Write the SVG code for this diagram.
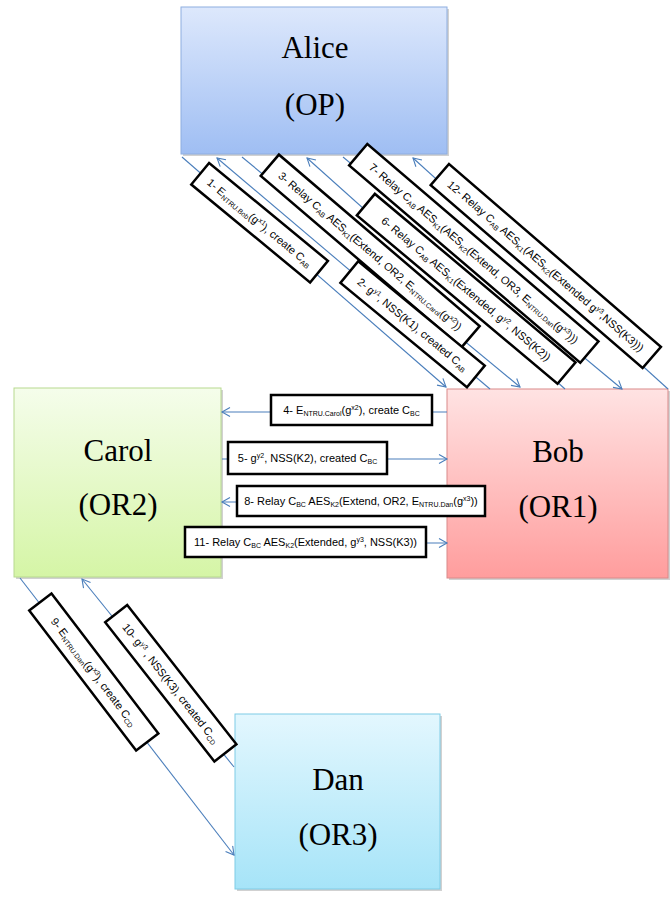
<svg xmlns="http://www.w3.org/2000/svg" width="672" height="903" viewBox="0 0 672 903">
<defs>
<linearGradient id="gA" x1="0" y1="0" x2="0" y2="1"><stop offset="0" stop-color="#dde8fc"/><stop offset="1" stop-color="#9fbef3"/></linearGradient>
<linearGradient id="gB" x1="0" y1="0" x2="0" y2="1"><stop offset="0" stop-color="#ffe3e3"/><stop offset="1" stop-color="#ff9d9d"/></linearGradient>
<linearGradient id="gC" x1="0" y1="0" x2="0" y2="1"><stop offset="0" stop-color="#f5fdeb"/><stop offset="1" stop-color="#d5f5a6"/></linearGradient>
<linearGradient id="gD" x1="0" y1="0" x2="0" y2="1"><stop offset="0" stop-color="#e3f7fe"/><stop offset="1" stop-color="#a6e4f8"/></linearGradient>
<marker id="arr" markerWidth="12" markerHeight="12" refX="9" refY="5" orient="auto" markerUnits="userSpaceOnUse"><path d="M1,0.5 L9,5 L1,9.5" fill="none" stroke="#4a7ebb" stroke-width="1.1"/></marker>
</defs>
<style>
.node{stroke-width:1}
.shadow{fill:#000;opacity:0.18}
.big{font-family:"Liberation Serif","Times New Roman",serif;font-size:31px;fill:#000;text-anchor:middle}
.edge{stroke:#4a7ebb;stroke-width:1.1;fill:none;marker-end:url(#arr)}
.lab{fill:#fff;stroke:#000;stroke-width:2.5}
.t{font-family:"Liberation Sans",Arial,sans-serif;font-size:11px;fill:#000;text-anchor:middle}
.s{font-size:7px}
</style>
<rect width="672" height="903" fill="#fff"/>

<g id="alice">
<rect class="shadow" x="183" y="9" width="266" height="147"/>
<rect class="node" x="181" y="7" width="266" height="147" fill="url(#gA)" stroke="#8eaee0"/>
<text class="big" x="315" y="58">Alice</text>
<text class="big" x="315" y="115">(OP)</text>
</g>

<g id="bob">
<rect class="shadow" x="449" y="391" width="221" height="189"/>
<rect class="node" x="447" y="389" width="221" height="189" fill="url(#gB)" stroke="#d98a8a"/>
<text class="big" x="558" y="462">Bob</text>
<text class="big" x="558" y="517">(OR1)</text>
</g>

<g id="carol">
<rect class="shadow" x="16" y="390" width="207" height="189"/>
<rect class="node" x="14" y="388" width="207" height="189" fill="url(#gC)" stroke="#b7d98f"/>
<text class="big" x="118" y="461">Carol</text>
<text class="big" x="118" y="515">(OR2)</text>
</g>

<g id="dan">
<rect class="shadow" x="237" y="716" width="205" height="175"/>
<rect class="node" x="235" y="714" width="205" height="175" fill="url(#gD)" stroke="#7fcce6"/>
<text class="big" x="338" y="790">Dan</text>
<text class="big" x="338" y="845">(OR3)</text>
</g>

<g id="connectors">
<line class="edge" x1="182" y1="157" x2="446" y2="387"/>
<line class="edge" x1="490" y1="389" x2="217" y2="158"/>
<line class="edge" x1="242" y1="157" x2="520" y2="387"/>
<line class="edge" x1="565" y1="389" x2="307" y2="158"/>
<line class="edge" x1="343" y1="157" x2="622" y2="389"/>
<line class="edge" x1="668" y1="389" x2="413" y2="158"/>
<line class="edge" x1="447" y1="412" x2="222" y2="412"/>
<line class="edge" x1="222" y1="459" x2="447" y2="459"/>
<line class="edge" x1="447" y1="502" x2="222" y2="502"/>
<line class="edge" x1="222" y1="543" x2="447" y2="543"/>
<line class="edge" x1="20" y1="578" x2="234" y2="855"/>
<line class="edge" x1="234" y1="767" x2="82" y2="579"/>

<g id="label1" transform="translate(259.6,222.7) rotate(39.5)">
<rect class="lab" x="-77" y="-14" width="154" height="28"/>
<text class="t" x="0" y="4">1- E<tspan class="s" dy="2">NTRU.Bob</tspan><tspan dy="-2">(g</tspan><tspan class="s" dy="-4">x1</tspan><tspan dy="4">), create C</tspan><tspan class="s" dy="2">AB</tspan></text>
</g>
<g id="label3" transform="translate(370.2,251) rotate(40.5)">
<rect class="lab" x="-132" y="-14" width="264" height="28"/>
<text class="t" x="0" y="4">3- Relay C<tspan class="s" dy="2">AB</tspan><tspan dy="-2"> AES</tspan><tspan class="s" dy="2">K1</tspan><tspan dy="-2">(Extend, OR2, E</tspan><tspan class="s" dy="2">NTRU.Carol</tspan><tspan dy="-2">(g</tspan><tspan class="s" dy="-4">x2</tspan><tspan dy="4">))</tspan></text>
</g>
<g id="label2" transform="translate(412.6,324.3) rotate(39.5)">
<rect class="lab" x="-82" y="-14" width="164" height="28"/>
<text class="t" x="0" y="4">2- g<tspan class="s" dy="-4">y1</tspan><tspan dy="4">, NSS(K1), created C</tspan><tspan class="s" dy="2">AB</tspan></text>
</g>
<g id="label7" transform="translate(473.8,253.4) rotate(40.5)">
<rect class="lab" x="-152" y="-14" width="304" height="28"/>
<text class="t" x="0" y="4">7- Relay C<tspan class="s" dy="2">AB</tspan><tspan dy="-2"> AES</tspan><tspan class="s" dy="2">K1</tspan><tspan dy="-2">(AES</tspan><tspan class="s" dy="2">K2</tspan><tspan dy="-2">(Extend, OR3, E</tspan><tspan class="s" dy="2">NTRU.Dan</tspan><tspan dy="-2">(g</tspan><tspan class="s" dy="-4">x3</tspan><tspan dy="4">)))</tspan></text>
</g>
<g id="label6" transform="translate(466.2,288.8) rotate(40)">
<rect class="lab" x="-131" y="-14" width="262" height="28"/>
<text class="t" x="0" y="4">6- Relay C<tspan class="s" dy="2">AB</tspan><tspan dy="-2"> AES</tspan><tspan class="s" dy="2">K1</tspan><tspan dy="-2">(Extended, g</tspan><tspan class="s" dy="-4">y2</tspan><tspan dy="4">, NSS(K2))</tspan></text>
</g>
<g id="label12" transform="translate(545.8,266) rotate(40.8)">
<rect class="lab" x="-140" y="-14" width="280" height="28"/>
<text class="t" x="0" y="4">12- Relay C<tspan class="s" dy="2">AB</tspan><tspan dy="-2"> AES</tspan><tspan class="s" dy="2">K1</tspan><tspan dy="-2">(AES</tspan><tspan class="s" dy="2">K2</tspan><tspan dy="-2">(Extended g</tspan><tspan class="s" dy="-4">y3</tspan><tspan dy="4">,NSS(K3)))</tspan></text>
</g>

<g id="label4">
<rect class="lab" x="271" y="395" width="161" height="30"/>
<text class="t" x="351.5" y="414">4- E<tspan class="s" dy="2">NTRU.Carol</tspan><tspan dy="-2">(g</tspan><tspan class="s" dy="-4">x2</tspan><tspan dy="4">), create C</tspan><tspan class="s" dy="2">BC</tspan></text>
</g>
<g id="label5">
<rect class="lab" x="228" y="442" width="159" height="32"/>
<text class="t" x="307.5" y="462">5- g<tspan class="s" dy="-4">y2</tspan><tspan dy="4">, NSS(K2), created C</tspan><tspan class="s" dy="2">BC</tspan></text>
</g>
<g id="label8">
<rect class="lab" x="237" y="486" width="248" height="30"/>
<text class="t" x="361" y="505">8- Relay C<tspan class="s" dy="2">BC</tspan><tspan dy="-2"> AES</tspan><tspan class="s" dy="2">K2</tspan><tspan dy="-2">(Extend, OR2, E</tspan><tspan class="s" dy="2">NTRU.Dan</tspan><tspan dy="-2">(g</tspan><tspan class="s" dy="-4">x3</tspan><tspan dy="4">))</tspan></text>
</g>
<g id="label11">
<rect class="lab" x="185" y="527" width="241" height="30"/>
<text class="t" x="305.5" y="546">11- Relay C<tspan class="s" dy="2">BC</tspan><tspan dy="-2"> AES</tspan><tspan class="s" dy="2">K2</tspan><tspan dy="-2">(Extended, g</tspan><tspan class="s" dy="-4">y3</tspan><tspan dy="4">, NSS(K3))</tspan></text>
</g>

<g id="label9" transform="translate(93.8,672) rotate(52.6)">
<rect class="lab" x="-88" y="-14" width="176" height="28"/>
<text class="t" x="0" y="4">9- E<tspan class="s" dy="2">NTRU.Dan</tspan><tspan dy="-2">(g</tspan><tspan class="s" dy="-4">x3</tspan><tspan dy="4">), create C</tspan><tspan class="s" dy="2">CD</tspan></text>
</g>
<g id="label10" transform="translate(170.8,683.3) rotate(51.9)">
<rect class="lab" x="-88.5" y="-14" width="177" height="28"/>
<text class="t" x="0" y="4">10- g<tspan class="s" dy="-4">y3</tspan><tspan dy="4"> , NSS(K3), created C</tspan><tspan class="s" dy="2">CD</tspan></text>
</g>
</g>
</svg>
